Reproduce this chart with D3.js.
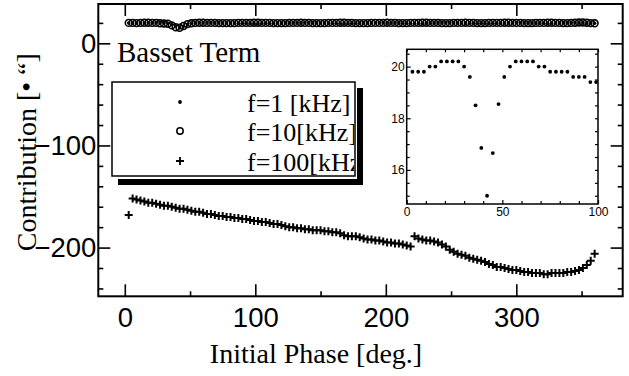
<!DOCTYPE html>
<html>
<head>
<meta charset="utf-8">
<script src="https://cdn.jsdelivr.net/npm/d3@7"></script>
<style>
  body { margin: 0; background: #fff; }
  svg { display: block; }
  .serif { font-family: "Liberation Serif", "Times New Roman", serif; }
  .sans { font-family: "Liberation Sans", Arial, sans-serif; }
</style>
</head>
<body>
<div id="chart"></div>
<script>
// initial phase [deg.], shared by the three series
const phase = [
  3, 6, 9, 12, 15, 18, 21, 24, 27, 30,
  33, 36, 39, 42, 45, 48, 51, 54, 57, 60,
  63, 66, 69, 72, 75, 78, 81, 84, 87, 90,
  93, 96, 99, 102, 105, 108, 111, 114, 117, 120,
  123, 126, 129, 132, 135, 138, 141, 144, 147, 150,
  153, 156, 159, 162, 165, 168, 171, 174, 177, 180,
  183, 186, 189, 192, 195, 198, 201, 204, 207, 210,
  213, 216, 219, 222, 225, 228, 231, 234, 237, 240,
  243, 246, 249, 252, 255, 258, 261, 264, 267, 270,
  273, 276, 279, 282, 285, 288, 291, 294, 297, 300,
  303, 306, 309, 312, 315, 318, 321, 324, 327, 330,
  333, 336, 339, 342, 345, 348, 351, 354, 357, 360
];

// f = 1 kHz
const f1 = [
  19.8, 19.8, 19.8, 20.0, 20.0, 20.2, 20.2, 20.2, 20.2, 20.0,
  19.6, 18.5, 16.85, 15.0, 16.65, 18.55, 19.6, 20.0, 20.2, 20.2,
  20.2, 20.2, 20.0, 20.0, 19.8, 19.8, 19.8, 19.8, 19.6, 19.6,
  19.6, 19.4, 19.4, 19.4, 19.4, 19.6, 19.6, 19.6, 19.8, 19.8,
  19.8, 20.0, 20.0, 20.0, 20.2, 20.2, 20.2, 20.0, 20.0, 19.8,
  19.8, 19.8, 19.6, 19.6, 19.6, 19.4, 19.4, 19.6, 19.6, 19.8,
  19.8, 20.0, 20.0, 20.2, 20.2, 20.2, 20.0, 20.0, 19.8, 19.8,
  19.6, 19.6, 19.6, 19.4, 19.4, 19.6, 19.8, 19.8, 20.0, 20.0,
  20.2, 20.2, 20.2, 20.0, 20.0, 19.8, 19.8, 19.8, 19.6, 19.6,
  19.6, 19.4, 19.4, 19.6, 19.6, 19.8, 19.8, 20.0, 20.0, 20.2,
  20.2, 20.0, 20.0, 19.8, 19.8, 19.8, 19.6, 19.6, 19.6, 19.8,
  19.8, 20.0, 20.0, 20.2, 20.2, 20.0, 20.0, 19.8, 19.8, 19.6
];

// f = 10 kHz
const f10 = [
  20.0, 20.0, 19.8, 20.0, 20.2, 20.2, 20.0, 20.0, 19.6, 19.4,
  19.2, 17.6, 15.8, 15.2, 17.0, 18.8, 19.6, 20.0, 20.2, 20.2,
  20.0, 20.0, 20.0, 19.8, 19.8, 19.8, 19.8, 19.8, 20.0, 20.0,
  20.0, 20.0, 20.2, 20.2, 20.0, 20.0, 20.0, 19.8, 19.8, 19.8,
  19.8, 20.0, 20.0, 20.0, 20.2, 20.0, 20.0, 19.8, 19.8, 19.8,
  19.8, 20.0, 20.0, 20.0, 20.2, 20.2, 20.0, 20.0, 19.8, 19.8,
  19.8, 19.8, 20.0, 20.0, 20.0, 20.0, 20.2, 20.0, 20.0, 19.8,
  19.8, 19.8, 20.0, 20.0, 20.0, 20.2, 20.2, 20.0, 20.0, 20.0,
  19.8, 19.8, 19.8, 20.0, 20.0, 20.0, 20.2, 20.0, 20.0, 19.8,
  19.8, 19.8, 20.0, 20.0, 20.0, 20.0, 20.2, 20.2, 20.0, 20.0,
  20.0, 19.8, 19.8, 19.8, 20.0, 20.0, 20.0, 20.2, 20.2, 20.0,
  20.0, 19.8, 19.8, 20.0, 20.2, 20.4, 20.4, 20.2, 19.8, 19.6
];

// f = 100 kHz
const f100 = [
  -168, -152, -153, -154, -155, -156, -156, -157, -158, -159,
  -159, -160, -161, -162, -162, -163, -164, -165, -165, -166,
  -167, -167, -168, -169, -169, -170, -170, -171, -171, -172,
  -172, -173, -174, -174, -175, -175, -176, -177, -177, -178,
  -179, -180, -180, -181, -181, -182, -182, -183, -183, -183,
  -184, -184, -185, -185, -186, -188, -189, -189, -189, -190,
  -191, -192, -192, -193, -193, -194, -195, -195, -196, -196,
  -197, -198, -199, -189, -191, -192, -193, -193, -194, -195,
  -197, -199, -202, -204, -206, -207, -208, -210, -211, -212,
  -213, -214, -216, -217, -219, -219, -220, -221, -222, -222,
  -223, -224, -224, -225, -225, -225, -226, -226, -225, -225,
  -225, -225, -224, -224, -223, -222, -220, -217, -213, -206
];

const legendLabels = ["f=1 [kHz]", "f=10[kHz]", "f=100[kHz]"];
const xMajor = [0, 100, 200, 300];
const xMinor = [50, 150, 250, 350];
const yMajor = [0, -100, -200];
const yMinor = [20, -20, -40, -60, -80, -120, -140, -160, -180, -220, -240];
const insetXMajor = [0, 50, 100];
const insetXMinor = [10, 20, 30, 40, 60, 70, 80, 90];
const insetYMajor = [16, 18, 20];
const insetYMinor = [15, 15.5, 16.5, 17, 17.5, 18.5, 19, 19.5, 20.5];

const width = 629, height = 376;
const frame = { left: 98.3, right: 622.7, top: 4, bottom: 296.3 };

const svg = d3.select("#chart").append("svg")
    .attr("width", width)
    .attr("height", height);

const x = d3.scaleLinear().domain([-20.3, 381.5]).range([frame.left, frame.right]);
const y = d3.scaleLinear().domain([-247.7, 38.5]).range([frame.bottom, frame.top]);

const fmt = d => d < 0 ? "\u2212" + (-d) : String(d);

function styleAxis(g, w) {
    g.select(".domain").remove();
    g.selectAll(".tick line").attr("stroke", "#000").attr("stroke-width", w);
}

// main axes: ticks point inward on all four sides
svg.append("g").attr("transform", `translate(0,${frame.bottom})`)
    .call(d3.axisBottom(x).tickValues(xMajor).tickSize(-12).tickPadding(11.5).tickFormat(fmt))
    .call(g => styleAxis(g, 1.6))
    .call(g => g.selectAll("text").attr("class", "sans").attr("font-size", 27.5).attr("fill", "#000"));
svg.append("g").attr("transform", `translate(0,${frame.bottom})`)
    .call(d3.axisBottom(x).tickValues(xMinor).tickSize(-5).tickFormat(""))
    .call(g => styleAxis(g, 1.6));
svg.append("g").attr("transform", `translate(0,${frame.top})`)
    .call(d3.axisTop(x).tickValues(xMajor).tickSize(-12).tickFormat(""))
    .call(g => styleAxis(g, 1.6));
svg.append("g").attr("transform", `translate(0,${frame.top})`)
    .call(d3.axisTop(x).tickValues(xMinor).tickSize(-5).tickFormat(""))
    .call(g => styleAxis(g, 1.6));

svg.append("g").attr("transform", `translate(${frame.left},0)`)
    .call(d3.axisLeft(y).tickValues(yMajor).tickSize(-12).tickPadding(2).tickFormat(fmt))
    .call(g => styleAxis(g, 1.6))
    .call(g => g.selectAll("text").attr("class", "sans").attr("font-size", 27.5).attr("fill", "#000"));
svg.append("g").attr("transform", `translate(${frame.left},0)`)
    .call(d3.axisLeft(y).tickValues(yMinor).tickSize(-5).tickFormat(""))
    .call(g => styleAxis(g, 1.6));
svg.append("g").attr("transform", `translate(${frame.right},0)`)
    .call(d3.axisRight(y).tickValues(yMajor).tickSize(-12).tickFormat(""))
    .call(g => styleAxis(g, 1.6));
svg.append("g").attr("transform", `translate(${frame.right},0)`)
    .call(d3.axisRight(y).tickValues(yMinor).tickSize(-5).tickFormat(""))
    .call(g => styleAxis(g, 1.6));

svg.append("rect")
    .attr("x", frame.left).attr("y", frame.top)
    .attr("width", frame.right - frame.left).attr("height", frame.bottom - frame.top)
    .attr("fill", "none").attr("stroke", "#000").attr("stroke-width", 2);

// axis titles
svg.append("text").attr("class", "serif")
    .attr("x", 316).attr("y", 363)
    .attr("text-anchor", "middle").attr("font-size", 28)
    .text("Initial Phase [deg.]");
svg.append("text").attr("class", "serif")
    .attr("transform", `translate(36,${(frame.top + frame.bottom) / 2 + 2}) rotate(-90)`)
    .attr("text-anchor", "middle").attr("font-size", 28)
    .text("Contribution [\u2022 \u201C]");

svg.append("text").attr("class", "serif")
    .attr("x", 117).attr("y", 62).attr("font-size", 29)
    .text("Basset Term");

// markers
const crossPath = "M-4,0H4M0,-4V4";
const plot = svg.append("g");

plot.append("g").selectAll("path")
    .data(d3.zip(phase, f100))
    .enter().append("path")
    .attr("d", crossPath)
    .attr("transform", d => `translate(${x(d[0])},${y(d[1])})`)
    .attr("stroke", "#000").attr("stroke-width", 2).attr("fill", "none");

plot.append("g").selectAll("circle")
    .data(d3.zip(phase, f10))
    .enter().append("circle")
    .attr("cx", d => x(d[0])).attr("cy", d => y(d[1]))
    .attr("r", 3.4)
    .attr("fill", "none").attr("stroke", "#000").attr("stroke-width", 1.6);

plot.append("g").selectAll("circle")
    .data(d3.zip(phase, f1))
    .enter().append("circle")
    .attr("cx", d => x(d[0])).attr("cy", d => y(d[1]))
    .attr("r", 1.8).attr("fill", "#000");

// legend with a detached drop shadow
const legend = svg.append("g");
legend.append("rect").attr("x", 118).attr("y", 179).attr("width", 245).attr("height", 6).attr("fill", "#000");
legend.append("rect").attr("x", 357).attr("y", 88).attr("width", 6).attr("height", 97).attr("fill", "#000");
legend.append("rect")
    .attr("x", 112).attr("y", 82).attr("width", 243).attr("height", 94)
    .attr("fill", "#fff").attr("stroke", "#000").attr("stroke-width", 1.5);
svg.append("clipPath").attr("id", "legend-clip")
    .append("rect").attr("x", 112).attr("y", 82).attr("width", 242).attr("height", 94);

const rowY = [102, 131, 161];
legend.append("circle").attr("cx", 180).attr("cy", rowY[0]).attr("r", 1.9).attr("fill", "#000");
legend.append("circle").attr("cx", 180).attr("cy", rowY[1]).attr("r", 3.2)
    .attr("fill", "#fff").attr("stroke", "#000").attr("stroke-width", 1.5);
legend.append("path").attr("d", crossPath)
    .attr("transform", `translate(180,${rowY[2]})`)
    .attr("stroke", "#000").attr("stroke-width", 1.8);

legend.append("g").attr("clip-path", "url(#legend-clip)")
    .selectAll("text")
    .data(legendLabels)
    .enter().append("text")
    .attr("class", "serif")
    .attr("x", 247).attr("y", (d, i) => rowY[i] + 10)
    .attr("font-size", 26)
    .text(d => d);

// inset: 1 kHz, 0-100 deg
const inset = { left: 406.7, right: 598, top: 49.3, bottom: 204 };
const xi = d3.scaleLinear().domain([0, 100]).range([inset.left, inset.right]);
const yi = d3.scaleLinear().domain([14.68, 20.67]).range([inset.bottom, inset.top]);

const ins = svg.append("g");
ins.append("rect")
    .attr("x", inset.left).attr("y", inset.top)
    .attr("width", inset.right - inset.left).attr("height", inset.bottom - inset.top)
    .attr("fill", "#fff");

ins.append("g").attr("transform", `translate(0,${inset.bottom})`)
    .call(d3.axisBottom(xi).tickValues(insetXMajor).tickSize(-4).tickPadding(3).tickFormat(d => d))
    .call(g => styleAxis(g, 1.2))
    .call(g => g.selectAll("text").attr("class", "sans").attr("font-size", 12).attr("fill", "#000"));
ins.append("g").attr("transform", `translate(0,${inset.bottom})`)
    .call(d3.axisBottom(xi).tickValues(insetXMinor).tickSize(-3).tickFormat(""))
    .call(g => styleAxis(g, 1.2));
ins.append("g").attr("transform", `translate(0,${inset.top})`)
    .call(d3.axisTop(xi).tickValues(insetXMajor.concat(insetXMinor)).tickSize(-3).tickFormat(""))
    .call(g => styleAxis(g, 1.2));
ins.append("g").attr("transform", `translate(${inset.left},0)`)
    .call(d3.axisLeft(yi).tickValues(insetYMajor).tickSize(-4).tickPadding(2).tickFormat(d => d))
    .call(g => styleAxis(g, 1.2))
    .call(g => g.selectAll("text").attr("class", "sans").attr("font-size", 12).attr("fill", "#000"));
ins.append("g").attr("transform", `translate(${inset.left},0)`)
    .call(d3.axisLeft(yi).tickValues(insetYMinor).tickSize(-3).tickFormat(""))
    .call(g => styleAxis(g, 1.2));
ins.append("g").attr("transform", `translate(${inset.right},0)`)
    .call(d3.axisRight(yi).tickValues(insetYMajor.concat(insetYMinor)).tickSize(-3).tickFormat(""))
    .call(g => styleAxis(g, 1.2));

ins.append("rect")
    .attr("x", inset.left).attr("y", inset.top)
    .attr("width", inset.right - inset.left).attr("height", inset.bottom - inset.top)
    .attr("fill", "none").attr("stroke", "#000").attr("stroke-width", 1.5);

const insetData = d3.zip(phase, f1).filter(d => d[0] <= 100);
ins.append("g").selectAll("circle")
    .data(insetData)
    .enter().append("circle")
    .attr("cx", d => xi(d[0])).attr("cy", d => yi(d[1]))
    .attr("r", 1.9).attr("fill", "#000");
</script>
</body>
</html>
